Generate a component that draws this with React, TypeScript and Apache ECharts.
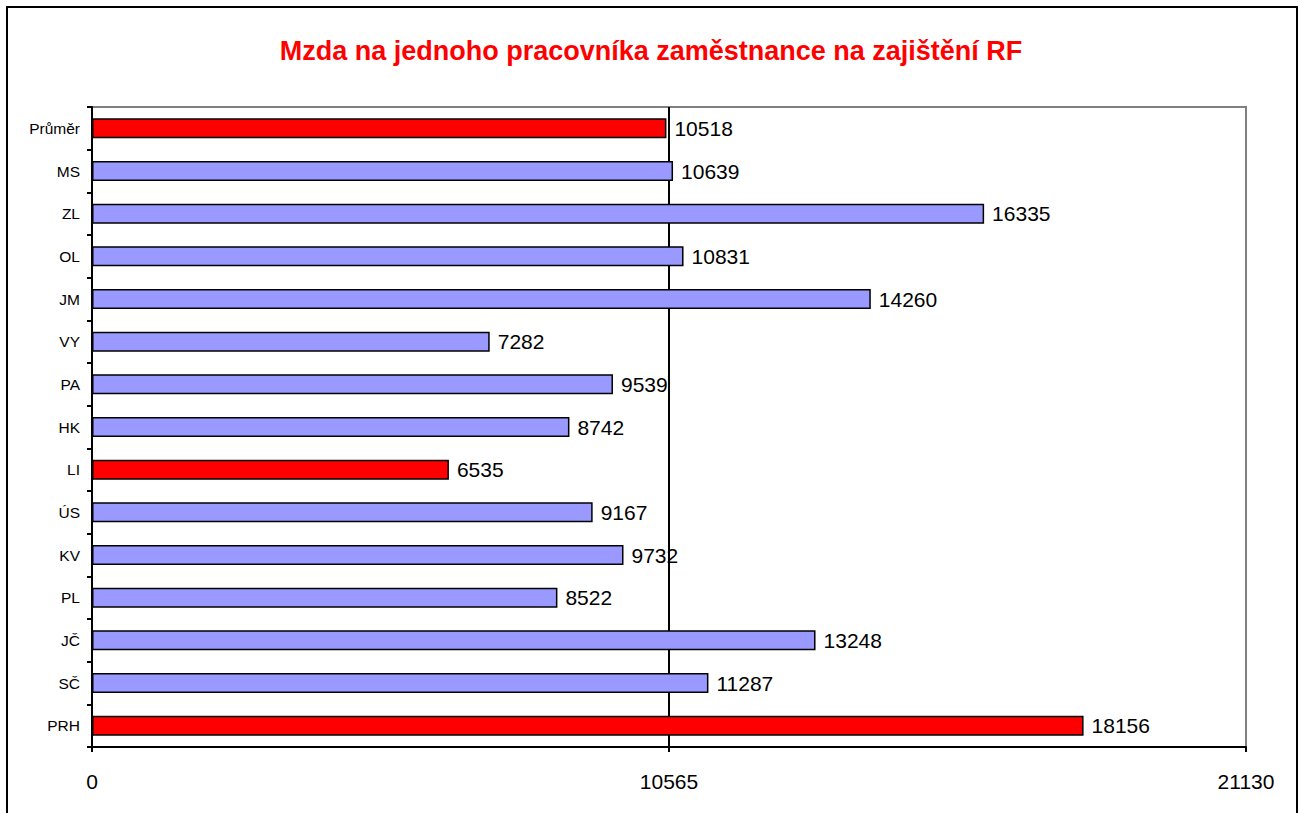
import React, { useEffect, useRef } from "react";
import * as echarts from "echarts";

const titleText = "Mzda na jednoho pracovníka zaměstnance na zajištění RF";
const categories = ["Průměr", "MS", "ZL", "OL", "JM", "VY", "PA", "HK", "LI", "ÚS", "KV", "PL", "JČ", "SČ", "PRH"];
const values = [10518, 10639, 16335, 10831, 14260, 7282, 9539, 8742, 6535, 9167, 9732, 8522, 13248, 11287, 18156];
const highlighted = ["Průměr", "LI", "PRH"];
const axisMax = 21130;
const axisInterval = 10565;

const RED = "#FF0000";
const BLUE = "#9999FF";
const FONT = "'Liberation Sans', Arial, sans-serif";

export default function App() {
  const ref = useRef<HTMLDivElement>(null);
  useEffect(() => {
    if (!ref.current) return;
    const chart = echarts.init(ref.current, null, { renderer: "svg" });
    chart.setOption({
      animation: false,
      backgroundColor: "#ffffff",
      textStyle: { fontFamily: FONT },
      title: {
        text: titleText,
        left: "center",
        top: 32,
        textStyle: { color: RED, fontWeight: "bold", fontSize: 27, fontFamily: FONT },
      },
      graphic: [
        {
          type: "rect",
          shape: { x: 7, y: 7, width: 1290, height: 830 },
          style: { fill: "none", stroke: "#000", lineWidth: 2 },
          silent: true,
        },
      ],
      grid: {
        left: 92,
        right: 56,
        top: 107,
        bottom: 66,
        show: true,
        borderColor: "#808080",
        borderWidth: 2,
        backgroundColor: "transparent",
      },
      xAxis: {
        type: "value",
        min: 0,
        max: axisMax,
        interval: axisInterval,
        axisLine: { show: true, lineStyle: { color: "#000", width: 2 } },
        axisTick: { show: true, length: 5, lineStyle: { color: "#000", width: 2 } },
        axisLabel: {
          color: "#000",
          fontSize: 21,
          margin: 24,
          fontFamily: FONT,
          formatter: (v: number) => String(v),
        },
        splitLine: { show: true, showMinLine: false, showMaxLine: false, lineStyle: { color: "#000", width: 2 } },
      },
      yAxis: {
        type: "category",
        data: categories,
        inverse: true,
        axisLine: { show: true, lineStyle: { color: "#000", width: 2 } },
        axisTick: { show: true, length: 5, lineStyle: { color: "#000", width: 2 } },
        axisLabel: { color: "#000", fontSize: 15.5, margin: 12, fontFamily: FONT },
        splitLine: { show: false },
      },
      series: [
        {
          type: "bar",
          barWidth: 20,
          data: values.map((v, i) => ({
            value: v,
            itemStyle: { color: highlighted.includes(categories[i]) ? RED : BLUE },
          })),
          itemStyle: { borderColor: "#000", borderWidth: 1.5 },
          label: {
            show: true,
            position: "right",
            distance: 8,
            color: "#000",
            fontSize: 21,
            fontFamily: FONT,
          },
        },
      ],
    });
    return () => chart.dispose();
  }, []);
  return (
    <div
      ref={ref}
      style={{ position: "absolute", left: 0, top: 0, width: 1302, height: 813 }}
    />
  );
}
